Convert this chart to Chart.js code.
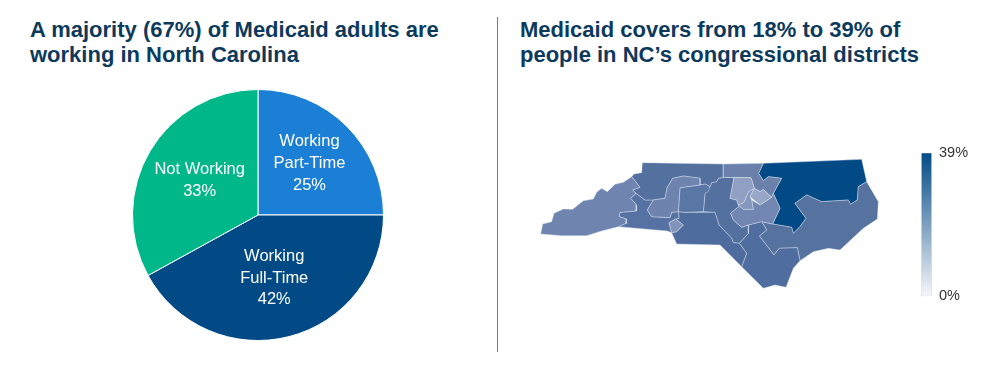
<!DOCTYPE html>
<html lang="en">
<head>
<meta charset="utf-8">
<title>Medicaid in North Carolina</title>
<script src="https://cdn.jsdelivr.net/npm/chart.js@4"></script>
<style>
    html, body { margin: 0; padding: 0; background: #fff; }
    body { position: relative; width: 985px; height: 365px; overflow: hidden; font-family: "Liberation Sans", Arial, sans-serif; }
    h2 { position: absolute; margin: 0; top: 17px; font-size: 22px; line-height: 25px; font-weight: bold; color: #0d3a5c; white-space: nowrap; }
    #leftTitle { left: 30px; }
    #rightTitle { left: 520px; }
    #divider { position: absolute; left: 497px; top: 17px; width: 1px; height: 335px; background: #7f7f7f; }
    canvas { position: absolute; }
    #pieChart { left: 128px; top: 85px; }
    #mapChart { left: 530px; top: 150px; }
    #scaleChart { left: 921px; top: 137px; }
</style>
</head>
<body>
<h2 id="leftTitle">A majority (67%) of Medicaid adults are<br>working in North Carolina</h2>
<h2 id="rightTitle">Medicaid covers from 18% to 39% of<br>people in NC’s congressional districts</h2>
<div id="divider"></div>
<canvas id="pieChart" width="260" height="260"></canvas>
<canvas id="mapChart" width="360" height="150"></canvas>
<canvas id="scaleChart" width="60" height="175"></canvas>

<script>
///////////////////////
// data
///////////////////////
const pieLabels = [['Working', 'Part-Time'], ['Working', 'Full-Time'], ['Not Working']];
const pieValues = [25, 42, 33];
const pieColors = ['#1b7fd6', '#024a86', '#00b78a'];
const pieLabelRadius = [0.58, 0.52, 0.54];

const scaleMin = 0;
const scaleMax = 39;

// district outlines on a map grid, [x, y]
const district11 = [[32,252],[38,222],[65,215],[72,190],[100,177],[128,178],[160,152],[190,147],[200,127],[215,115],[232,125],[255,103],[280,97],[305,80],[330,112],[308,120],[318,130],[302,145],[320,165],[318,183],[270,187],[267,200],[290,207],[288,220],[265,230],[215,243],[170,257],[95,257]];
const district5 = [[305,80],[312,72],[335,68],[337,38],[580,42],[580,82],[565,85],[560,95],[545,98],[540,110],[525,102],[510,105],[510,85],[460,78],[428,85],[412,112],[405,145],[370,150],[345,150],[318,130],[308,120],[330,112]];
const district10 = [[370,150],[405,145],[412,112],[428,85],[460,78],[510,85],[510,105],[450,113],[445,185],[425,187],[420,203],[365,200],[352,180]];
const district6 = [[450,113],[510,105],[525,102],[540,110],[535,125],[525,130],[520,185],[465,187],[445,185]];
const district14 = [[270,187],[318,183],[320,165],[302,145],[318,130],[345,150],[370,150],[352,180],[365,200],[420,203],[425,187],[445,185],[447,205],[437,207],[417,218],[425,248],[412,243],[265,230],[288,220],[290,207],[267,200]];
const district12 = [[417,218],[437,207],[460,225],[440,245],[425,248]];
const district8 = [[445,185],[465,187],[555,187],[567,225],[605,265],[610,278],[628,280],[650,310],[635,350],[570,285],[440,282],[425,248],[440,245],[460,225],[437,207],[447,205]];
const district9 = [[520,185],[525,130],[540,110],[545,98],[560,95],[565,85],[580,82],[612,83],[600,145],[620,150],[625,165],[628,168],[602,190],[610,210],[635,232],[655,225],[655,250],[628,280],[610,278],[605,265],[567,225],[555,187]];
const district13 = [[580,42],[700,40],[686,70],[700,92],[715,80],[755,85],[730,130],[725,142],[700,118],[690,125],[673,115],[663,83],[580,82]];
const district4 = [[612,83],[663,83],[673,115],[655,125],[642,157],[625,165],[620,150],[600,145]];
const district2 = [[660,140],[673,115],[690,125],[700,118],[725,142],[690,165]];
const districtWedge = [[642,157],[655,125],[673,115],[660,140],[665,150],[670,178],[640,178],[628,168],[625,165]];
const districtWake = [[602,190],[628,168],[640,178],[670,178],[665,150],[690,165],[725,142],[730,130],[750,175],[728,222],[695,215],[655,225],[635,232],[610,210]];
const district1 = [[700,40],[995,28],[1010,95],[985,110],[982,150],[962,163],[955,150],[875,155],[830,135],[795,160],[828,205],[810,230],[790,250],[785,232],[728,222],[750,175],[730,130],[755,85],[715,80],[700,92],[686,70]];
const district3 = [[1010,95],[1045,155],[1042,207],[1000,235],[930,300],[895,295],[850,305],[810,332],[802,293],[748,295],[732,315],[688,258],[710,240],[695,215],[728,222],[785,232],[790,250],[810,230],[828,205],[795,160],[830,135],[875,155],[955,150],[962,163],[982,150],[985,110]];
const district7 = [[688,258],[732,315],[748,295],[802,293],[810,332],[790,355],[768,412],[735,405],[700,415],[635,350],[650,310],[628,280],[655,250],[655,225],[695,215],[710,240]];

// first in the list is painted on top
const districtShapes = [district2, district4, districtWedge, districtWake, district12, district13, district10, district11, district6, district5, district14, district8, district9, district7, district3, district1];
const districtColors = ['#98a6c8', '#919fc3', '#8597bc', '#7187b1', '#8093ba', '#6b81ac', '#6e84af', '#6f85b0', '#5a76a5', '#54709f', '#5672a2', '#4e6c9e', '#53709f', '#4f6d9f', '#56729f', '#024a86'];

///////////////////////
// pie
///////////////////////
const pieTextPlugin = {
    id: 'pieText',
    afterDatasetsDraw(chart) {
        const ctx = chart.ctx;
        const lineHeight = 21.6;
        ctx.save();
        ctx.font = '16.5px "Liberation Sans", Arial, sans-serif';
        ctx.fillStyle = '#fff';
        ctx.textAlign = 'center';
        ctx.textBaseline = 'middle';
        chart.getDatasetMeta(0).data.forEach((arc, i) => {
            const mid = (arc.startAngle + arc.endAngle) / 2;
            const r = arc.outerRadius * pieLabelRadius[i];
            const cx = arc.x + Math.cos(mid) * r;
            const cy = arc.y + Math.sin(mid) * r;
            const lines = [...pieLabels[i], pieValues[i] + '%'];
            lines.forEach((line, j) => {
                ctx.fillText(line, cx, cy + (j - (lines.length - 1) / 2) * lineHeight);
            });
        });
        ctx.restore();
    }
};

new Chart(document.getElementById('pieChart'), {
    type: 'pie',
    data: {
        labels: pieLabels.map(l => l.join(' ')),
        datasets: [{
            data: pieValues,
            backgroundColor: pieColors,
            borderColor: '#fff',
            borderWidth: 1,
            radius: 125.5
        }]
    },
    options: {
        responsive: false,
        animation: false,
        plugins: { legend: { display: false }, tooltip: { enabled: false } }
    },
    plugins: [pieTextPlugin]
});

///////////////////////
// map
///////////////////////
new Chart(document.getElementById('mapChart'), {
    type: 'scatter',
    data: {
        datasets: districtShapes.map((shape, i) => ({
            data: [...shape, shape[0]].map(p => ({ x: p[0], y: p[1] })),
            showLine: true,
            fill: 'shape',
            tension: 0,
            pointRadius: 0,
            borderWidth: 0.6,
            borderColor: 'rgba(222,228,240,0.7)',
            backgroundColor: districtColors[i]
        }))
    },
    options: {
        responsive: false,
        animation: false,
        layout: { padding: 0 },
        scales: {
            x: { display: false, min: 0, max: 1080 },
            y: { display: false, min: 0, max: 450, reverse: true }
        },
        plugins: { legend: { display: false }, tooltip: { enabled: false } }
    }
});

///////////////////////
// colour scale
///////////////////////
new Chart(document.getElementById('scaleChart'), {
    type: 'bar',
    data: {
        labels: ['Medicaid share'],
        datasets: [{
            data: [[scaleMin, scaleMax]],
            barPercentage: 1,
            categoryPercentage: 1,
            borderWidth: 1,
            borderSkipped: false,
            borderColor: '#dde1e8',
            backgroundColor(context) {
                const area = context.chart.chartArea;
                if (!area) return '#54709f';
                const grad = context.chart.ctx.createLinearGradient(0, area.top, 0, area.bottom);
                grad.addColorStop(0, '#024a86');
                grad.addColorStop(1, '#f6f7fa');
                return grad;
            }
        }]
    },
    options: {
        responsive: false,
        animation: false,
        layout: { padding: 0 },
        scales: {
            x: { display: false },
            y: {
                position: 'right',
                min: scaleMin,
                max: scaleMax,
                border: { display: false },
                grid: { display: false, drawTicks: false },
                afterBuildTicks(scale) { scale.ticks = [{ value: scaleMin }, { value: scaleMax }]; },
                afterFit(scale) { scale.width = 49; },
                ticks: {
                    padding: 7,
                    color: '#333',
                    autoSkip: false,
                    font: { family: '"Liberation Sans", Arial, sans-serif', size: 14.5 },
                    callback: value => value + '%'
                }
            }
        },
        plugins: { legend: { display: false }, tooltip: { enabled: false } }
    }
});
</script>
</body>
</html>
